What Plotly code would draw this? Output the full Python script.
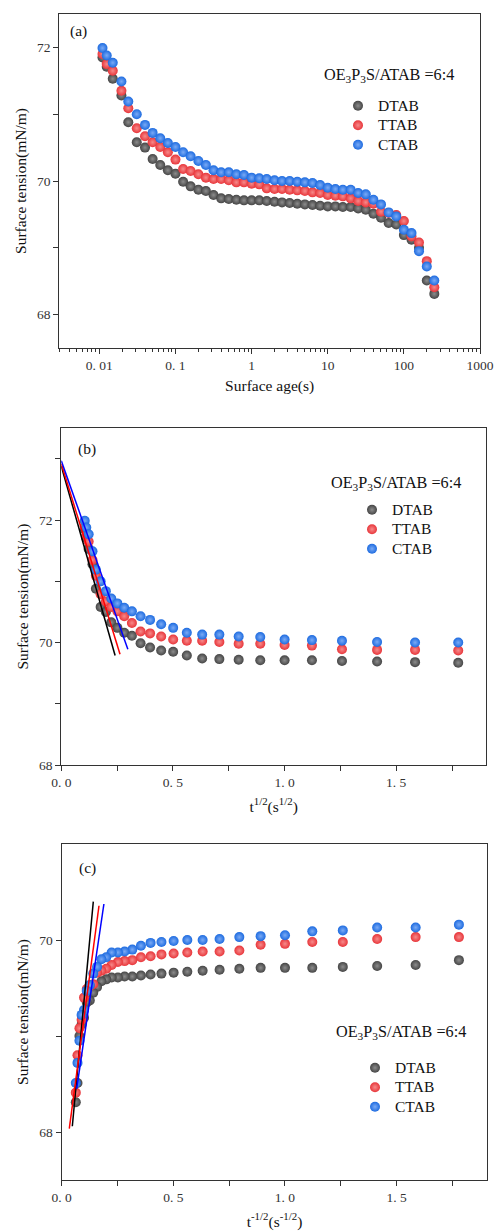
import numpy as np
import plotly.graph_objects as go

# ---------------- data ----------------
t_s = [0.011, 0.0125, 0.015, 0.0195, 0.024, 0.031, 0.0398, 0.0501, 0.0631, 0.0794,
       0.1, 0.126, 0.158, 0.2, 0.251, 0.316, 0.398, 0.501, 0.631, 0.794,
       1.0, 1.26, 1.58, 2.0, 2.51, 3.16, 3.98, 5.01, 6.31, 7.94,
       10, 12.6, 15.8, 20, 25.1, 31.6, 39.8, 50.1, 63.1, 79.4,
       100, 126, 158, 200, 251]

DTAB = [71.85, 71.71, 71.53, 71.28, 70.88, 70.58, 70.50, 70.33, 70.24, 70.16,
        70.11, 69.99, 69.92, 69.87, 69.85, 69.79, 69.74, 69.73, 69.72, 69.71,
        69.71, 69.71, 69.70, 69.69, 69.68, 69.67, 69.66, 69.65, 69.64, 69.63,
        69.62, 69.62, 69.61, 69.61, 69.59, 69.57, 69.51, 69.45, 69.37, 69.35,
        69.19, 69.12, 69.00, 68.51, 68.31]
TTAB = [71.90, 71.75, 71.65, 71.35, 71.09, 70.79, 70.67, 70.58, 70.51, 70.43,
        70.32, 70.18, 70.15, 70.10, 70.05, 70.03, 70.03, 70.01, 69.98, 69.98,
        69.96, 69.95, 69.89, 69.88, 69.88, 69.87, 69.86, 69.85, 69.83, 69.82,
        69.79, 69.78, 69.77, 69.74, 69.70, 69.68, 69.66, 69.54, 69.52, 69.49,
        69.40, 69.17, 69.08, 68.80, 68.41]
CTAB = [71.99, 71.88, 71.77, 71.49, 71.19, 71.00, 70.84, 70.72, 70.64, 70.57,
        70.51, 70.43, 70.37, 70.30, 70.24, 70.16, 70.13, 70.13, 70.10, 70.09,
        70.05, 70.04, 70.03, 70.01, 70.00, 70.00, 69.99, 69.98, 69.97, 69.94,
        69.90, 69.88, 69.87, 69.87, 69.82, 69.80, 69.72, 69.65, 69.53, 69.47,
        69.27, 69.22, 68.95, 68.72, 68.51]

series_names = ["DTAB", "TTAB", "CTAB"]
series_vals = [DTAB, TTAB, CTAB]
series_colors = ["#454545", "#e8353a", "#1d6be0"]
series_light = ["#8c8c8c", "#f68a8a", "#7aaaf5"]
fit_colors = ["#000000", "#ff0000", "#0000ff"]

# linear fits drawn in panel (b): x = t^1/2
fit_b_x = [[0.0, 0.241], [0.0, 0.263], [0.0, 0.298]]
fit_b_y = [[72.88, 69.79], [72.92, 69.81], [72.97, 69.89]]
# linear fits drawn in panel (c): x = t^-1/2
fit_c_x = [[0.0475, 0.1415], [0.034, 0.167], [0.067, 0.189]]
fit_c_y = [[68.06, 70.40], [68.035, 70.357], [68.45, 70.375]]

x_tickvals_a = [0.01, 0.1, 1, 10, 100, 1000]
x_ticktext_a = ["0. 01", "0. 1", "1", "10", "100", "1000"]
x_tickvals_bc = [0, 0.25, 0.5, 0.75, 1.0, 1.25, 1.5, 1.75]
x_ticktext_bc = ["0. 0", "", "0. 5", "", "1. 0", "", "1. 5", ""]

legend_title = "OE<sub>3</sub>P<sub>3</sub>S/ATAB =6:4"

# ---------------- figure ----------------
W, H = 495, 1231
FONT = "Liberation Serif"
AX = "#333333"

t = np.array(t_s)
x_b = np.sqrt(t)
x_c = 1.0 / np.sqrt(t)

fig = go.Figure()

panels = [
    ("x", "y", t, "legend", lambda v: np.ones_like(v, dtype=bool)),
    ("x2", "y2", x_b, "legend2", lambda v: v <= 1.9),
    ("x3", "y3", x_c, "legend3", lambda v: v <= 1.9),
]

for xa, ya, xv, leg, keep in panels:
    m = keep(xv)
    for name, vals, col, lt in zip(series_names, series_vals, series_colors, series_light):
        yv = np.array(vals)
        fig.add_trace(go.Scatter(
            x=xv[m], y=yv[m], mode="markers", xaxis=xa, yaxis=ya,
            name="<span style='font-size:15.5px'>%s</span>" % name,
            legend=leg,
            marker=dict(size=10, color=col, line=dict(width=0),
                        gradient=dict(type="radial", color=lt)),
        ))

for fx, fy, c in zip(fit_b_x, fit_b_y, fit_colors):
    fig.add_trace(go.Scatter(x=fx, y=fy, mode="lines", showlegend=False,
                             xaxis="x2", yaxis="y2", line=dict(color=c, width=1.5)))
for fx, fy, c in zip(fit_c_x, fit_c_y, fit_colors):
    fig.add_trace(go.Scatter(x=fx, y=fy, mode="lines", showlegend=False,
                             xaxis="x3", yaxis="y3", line=dict(color=c, width=1.5)))

def frame(**kw):
    d = dict(showline=True, linecolor=AX, linewidth=1.3, mirror=True,
             ticks="outside", ticklen=5, tickwidth=1.2, tickcolor=AX,
             showgrid=False, zeroline=False, automargin=False,
             tickfont=dict(family=FONT, size=13.5, color="#333333"),
             title_font=dict(family=FONT, size=15.5, color="#111111"))
    d.update(kw)
    return d

# minor ticks for log axis
minor_log = [k * 10.0 ** e for e in range(-3, 3) for k in range(2, 10)]
minor_log = [v for v in minor_log if 10 ** -2.526 <= v <= 1000]

dom_a = dict(x=[59.3 / W, 480 / W], y=[1 - 348 / H, 1 - 14 / H])
dom_b = dict(x=[61.3 / W, 486 / W], y=[1 - 765 / H, 1 - 428.3 / H])
dom_c = dict(x=[61.7 / W, 487.3 / W], y=[1 - 1180 / H, 1 - 844 / H])

fig.update_layout(
    width=W, height=H, margin=dict(l=0, r=0, t=0, b=0),
    paper_bgcolor="white", plot_bgcolor="white",
    font=dict(family=FONT, color="#111111"),
    xaxis=frame(type="log", range=[-2.526, 3], domain=dom_a["x"], anchor="y",
                tickvals=x_tickvals_a, ticktext=x_ticktext_a,
                minor=dict(tickvals=minor_log, ticks="outside", ticklen=3,
                           tickwidth=1, tickcolor=AX),
                title=dict(text="Surface age(s)", standoff=7)),
    yaxis=frame(range=[67.5, 72.5], domain=dom_a["y"], anchor="x",
                tickvals=[68, 69, 70, 71, 72], ticktext=["68", "", "70", "", "72"],
                title=dict(text="Surface tension(mN/m)", standoff=6)),
    xaxis2=frame(range=[0, 1.902], domain=dom_b["x"], anchor="y2",
                 tickvals=x_tickvals_bc, ticktext=x_ticktext_bc,
                 title=dict(text="t<sup>1/2</sup>(s<sup>1/2</sup>)", standoff=11)),
    yaxis2=frame(range=[68, 73.5], domain=dom_b["y"], anchor="x2",
                 tickvals=[68, 69, 70, 71, 72, 73],
                 ticktext=["68", "", "70", "", "72", ""],
                 title=dict(text="Surface tension(mN/m)", standoff=6)),
    xaxis3=frame(range=[0, 1.906], domain=dom_c["x"], anchor="y3",
                 tickvals=x_tickvals_bc, ticktext=x_ticktext_bc,
                 title=dict(text="t<sup>-1/2</sup>(s<sup>-1/2</sup>)", standoff=12)),
    yaxis3=frame(range=[67.5, 71.0], domain=dom_c["y"], anchor="x3",
                 tickvals=[68, 69, 70], ticktext=["68", "", "70"],
                 title=dict(text="Surface tension(mN/m)", standoff=6)),
)

leg_common = dict(xanchor="left", yanchor="top", bgcolor="rgba(0,0,0,0)",
                  font=dict(family=FONT, size=12.7, color="#111111"),
                  tracegroupgap=0, itemclick=False)
fig.update_layout(
    legend=dict(x=338 / W, y=1 - 91 / H, **leg_common),
    legend2=dict(x=352 / W, y=1 - 495 / H, **leg_common),
    legend3=dict(x=355 / W, y=1 - 1053 / H, **leg_common),
)

ann = [
    ("(a)", 68, 31), ("(b)", 76, 449), ("(c)", 77, 868),
]
for txt, px, py in ann:
    fig.add_annotation(text=txt, x=px / W, y=1 - py / H, xref="paper", yref="paper",
                       xanchor="left", yanchor="middle", showarrow=False,
                       font=dict(family=FONT, size=15.5, color="#111111"))
for px, py in [(322, 75), (329, 483), (334, 1032)]:
    fig.add_annotation(text=legend_title, x=px / W, y=1 - py / H, xref="paper",
                       yref="paper", xanchor="left", yanchor="middle", showarrow=False,
                       font=dict(family=FONT, size=16.2, color="#111111"))

fig.write_html("out.html")
